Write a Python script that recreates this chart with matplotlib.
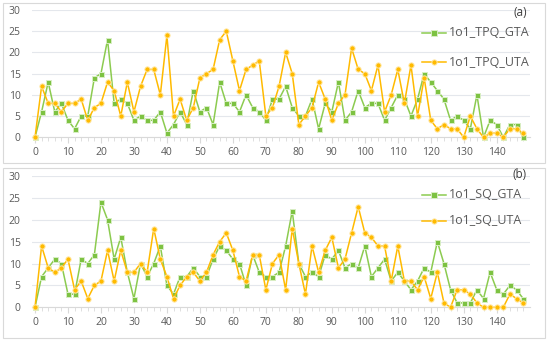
import numpy as np
import matplotlib
matplotlib.use('Agg')
import matplotlib.pyplot as plt
from matplotlib.patches import Rectangle

# ---- data ---- #
x = list(range(0, 150, 2))

tpq_gta = [0, 6, 13, 6, 8, 4, 2, 5, 5, 14, 15, 23, 8, 9, 8, 4,
           5, 4, 4, 6, 1, 3, 6, 3, 11, 6, 7, 3, 13, 8, 8, 6, 10, 7, 6, 4,
           9, 9, 12, 7, 5, 5, 9, 2, 8, 6, 13, 4, 6, 11, 7, 8, 8, 4, 7,
           10, 9, 5, 9, 15, 13, 11, 9, 4, 5, 4, 2, 10, 0, 4, 3, 0, 3, 3, 0]
tpq_uta = [0, 12, 8, 8, 6, 8, 8, 9, 4, 7, 8, 13, 11, 5, 13, 6,
           12, 16, 16, 10, 24, 5, 9, 4, 7, 14, 15, 16, 23, 25, 18, 11, 16, 17, 18, 5,
           7, 12, 20, 15, 3, 5, 7, 13, 9, 4, 8, 10, 21, 16, 15, 11, 17, 6, 10,
           16, 8, 17, 5, 14, 4, 2, 3, 2, 2, 0, 5, 2, 0, 1, 1, 0, 2, 2, 1]
sq_gta = [0, 7, 9, 11, 10, 3, 3, 11, 10, 12, 24, 20, 11, 16, 8, 2,
          10, 7, 10, 14, 5, 3, 7, 7, 9, 7, 7, 11, 14, 13, 11, 10, 5, 12, 8, 7,
          7, 8, 14, 22, 10, 7, 8, 7, 12, 11, 13, 9, 10, 9, 14, 7, 9, 11, 6,
          8, 6, 4, 6, 9, 8, 15, 10, 4, 1, 1, 1, 4, 2, 8, 4, 3, 5, 4, 2]
sq_uta = [0, 14, 9, 8, 9, 11, 4, 6, 2, 5, 6, 13, 6, 13, 8, 8,
          10, 8, 18, 11, 7, 2, 5, 7, 8, 6, 8, 12, 15, 17, 13, 7, 6, 12, 12, 4,
          10, 12, 4, 18, 10, 3, 14, 8, 13, 16, 9, 11, 17, 23, 17, 16, 14, 14, 6,
          14, 6, 6, 4, 7, 2, 8, 1, 0, 4, 4, 3, 1, 0, 0, 0, 0, 3, 2, 1]

panels = [
    ('(a)', tpq_gta, tpq_uta, '1o1_TPQ_GTA', '1o1_TPQ_UTA'),
    ('(b)', sq_gta, sq_uta, '1o1_SQ_GTA', '1o1_SQ_UTA'),
]

GREEN = '#8CCB50'
ORANGE = '#FFBA00'
GRID = '#E4E7EC'
TXT = '#595959'

plt.rcParams['font.family'] = ['Open Sans', 'DejaVu Sans']

fig = plt.figure(figsize=(5.5, 3.44), dpi=100)
W, H = 550.0, 344.0

# panel frames (px: x0, y0_top, x1, y1_bottom)
boxes = [(3, 3, 545, 163), (3, 168, 545, 338)]
for bx in boxes:
    fig.patches.append(Rectangle((bx[0] / W, 1 - bx[3] / H), (bx[2] - bx[0]) / W,
                                 (bx[3] - bx[1]) / H, transform=fig.transFigure,
                                 fill=False, edgecolor='#D9D9D9', lw=0.8))

# axes rectangles: y0 px and y30 px
ax_px = [(137.3, 10.0), (307.3, 176.0)]
left = 31.7 / W
right = 529.7 / W
leg_y = [(33, 62, 13), (195, 221, 174)]

for i, (tag, g, u, lg, lu) in enumerate(panels):
    y0, y30 = ax_px[i]
    ax = fig.add_axes([left, 1 - y0 / H, right - left, (y0 - y30) / H])
    ax.set_xlim(-1, 150)
    ax.set_ylim(0, 30)
    ax.set_yticks(range(0, 31, 5))
    ax.set_xticks(range(0, 141, 10))
    ax.set_xticks(x, minor=True)
    ax.grid(axis='y', color=GRID, lw=0.8)
    ax.set_axisbelow(True)
    for s in ['top', 'right', 'left']:
        ax.spines[s].set_visible(False)
    ax.spines['bottom'].set_color('#D9D9D9')
    ax.tick_params(axis='y', length=0, labelsize=7.5, colors=TXT, pad=8)
    ax.tick_params(axis='x', which='major', length=4, color='#D9D9D9',
                   labelsize=7.5, labelcolor=TXT, pad=3)
    ax.tick_params(axis='x', which='minor', length=3, color='#D9D9D9')

    ax.plot(x, g, color=GREEN, lw=1.1, marker='s', ms=3.6, mfc='#7DC242',
            mec='#D8EEC4', mew=0.7, clip_on=False, zorder=3)
    ax.plot(x, u, color=ORANGE, lw=1.1, marker='o', ms=3.8, mfc=ORANGE,
            mec='#FFE9A8', mew=0.7, clip_on=False, zorder=4)

    # legend drawn by hand
    ly1, ly2, ty = leg_y[i]
    for ly, col, mk, mfc, mec, lab in [(ly1, GREEN, 's', '#7DC242', '#D8EEC4', lg),
                                       (ly2, ORANGE, 'o', ORANGE, '#FFE9A8', lu)]:
        fy = 1 - ly / H
        fig.lines.append(plt.Line2D([422 / W, 446 / W], [fy, fy], color=col, lw=1.1,
                                    transform=fig.transFigure))
        fig.lines.append(plt.Line2D([434 / W], [fy], color=col, marker=mk, ms=3.8,
                                    mfc=mfc, mec=mec, mew=0.7, transform=fig.transFigure))
        fig.text(449 / W, fy, lab, fontsize=9, color=TXT, va='center', ha='left')
    fig.text(527 / W, 1 - ty / H, tag, fontsize=8.5, color='#404040', va='center', ha='right')

plt.savefig('out.png', dpi=100, facecolor='white')
